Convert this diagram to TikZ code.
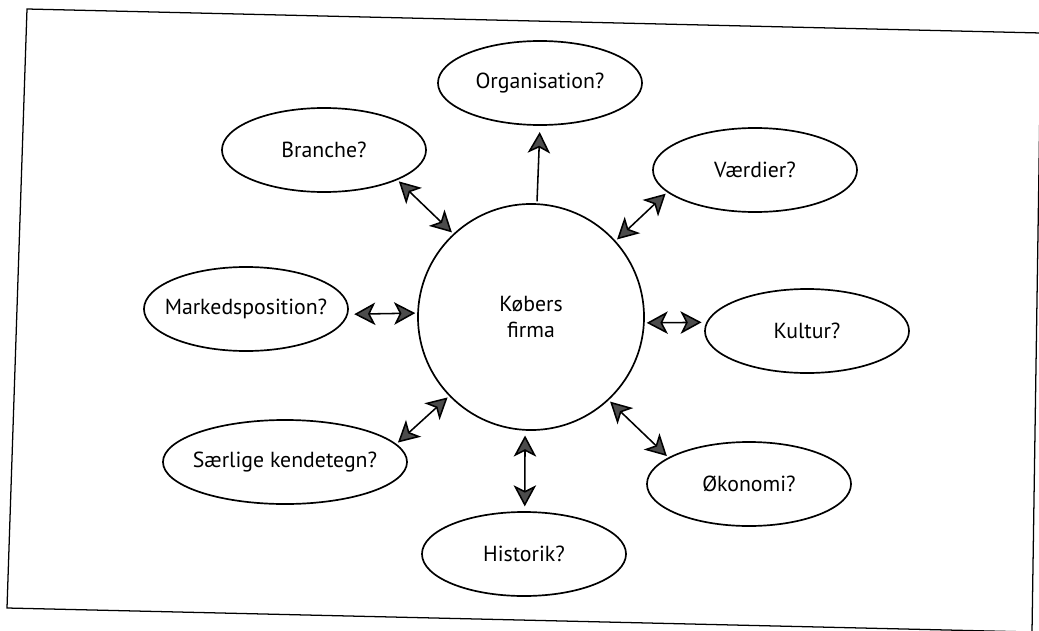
\documentclass[tikz,border=0pt]{standalone}
\usepackage{fontspec}
\setmainfont{PT Sans}
\usepackage{tikz}
\usetikzlibrary{arrows.meta, shapes.geometric}

\begin{document}
\begin{tikzpicture}[
  x=0.025cm, y=-0.025cm,
  topic/.style={draw, ellipse, minimum width=5.1cm, minimum height=2.1cm, inner xsep=-20pt, inner ysep=0pt, outer sep=0pt, line width=1.2pt, font=\fontsize{15.5}{19}\selectfont},
  firm/.style={draw, circle, minimum size=5.65cm, inner sep=0pt, outer sep=0pt, align=center, line width=1.2pt, font=\fontsize{15.5}{19}\selectfont},
  arrow/.style={line width=1.1pt, >={Stealth[length=15pt, width=16pt, inset=4pt, fill=gray!60!black]}, shorten >=2pt, shorten <=2pt},
  frame/.style={line width=0.9pt}
]
\useasboundingbox (0,0) rectangle (1039,631);

% Page frame (scan is a little skew)
\draw[frame] (27,9) -- (1041,33) -- (1032,632) -- (7,608) -- cycle;

% Center
\node[firm] (firma) at (531,317) {Købers\\firma};

% Ellipses around it
\node[topic] (organisation) at (540,83) {Organisation?};
\node[topic] (branche) at (324,150) {Branche?};
\node[topic] (vaerdier) at (755,170) {Værdier?};
\node[topic] (marked) at (246,309) {Markedsposition?};
\node[topic] (kultur) at (807,331) {Kultur?};
\node[topic, minimum width=6.1cm] (saerlige) at (285,462) {Særlige kendetegn?};
\node[topic] (historik) at (524,554) {Historik?};
\node[topic] (oekonomi) at (749,484) {Økonomi?};

% Arrows
\draw[arrow, ->, shorten >=5pt] (firma.87) -- (organisation.270);
\draw[arrow, <->] (branche.-22) -- (firma.133);
\draw[arrow, <->] (vaerdier.194) -- (firma.42);
\draw[arrow, <->, shorten <=5pt] (marked.-3) -- (firma.178);
\draw[arrow, <->, shorten <=4pt] (kultur.175) -- (firma.-3);
\draw[arrow, <->] (saerlige.9) -- (firma.224);
\draw[arrow, <->, shorten <=4pt, shorten >=4pt] (historik.89) -- (firma.267);
\draw[arrow, <->] (oekonomi.162) -- (firma.-47);

\end{tikzpicture}
\end{document}
